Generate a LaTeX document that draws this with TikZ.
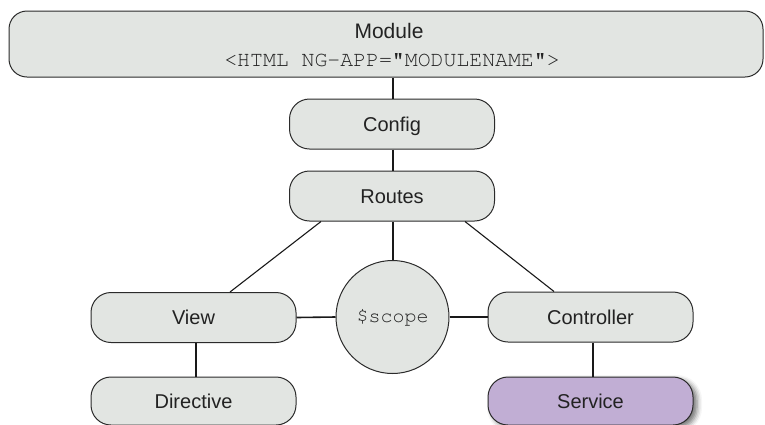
\documentclass[tikz,border=0pt]{standalone}
\usepackage[T1]{fontenc}
\usepackage{fontspec}
\setmainfont{Liberation Sans}
\newcommand{\courierfont}{\fontencoding{T1}\fontfamily{pcr}\selectfont}
\usetikzlibrary{shadows.blur,calc}
\definecolor{boxfill}{HTML}{E2E5E2}
\definecolor{svcfill}{HTML}{C1AED4}
\definecolor{boxline}{HTML}{2B2B2B}
\definecolor{txt}{HTML}{222222}
\begin{document}
\begin{tikzpicture}[x=1pt,y=-1pt,
  box/.style={draw=boxline, line width=1pt, fill=boxfill, rounded corners=20pt,
    minimum width=205pt, minimum height=50pt, inner sep=0pt, text=txt,
    font=\fontsize{20}{24}\selectfont, text height=14pt, text depth=0pt},
  link/.style={line width=1.6pt, draw=black!90},
  lbl/.style={inner sep=0pt, text depth=0pt, text=txt}]
\useasboundingbox (0,0) rectangle (765,424);
\node[box, rounded corners=18pt, minimum width=754pt, minimum height=66pt] (module) at (386,44) {};
\node[lbl, font=\fontsize{21}{24}\selectfont, text height=13.5pt] (modtitle) at (389,31.5) {Module};
\node[lbl, font=\fontsize{21.5}{22}\courierfont, text height=11pt] (modcode) at (392,60.5) {<HTML NG-APP="MODULENAME">};
\node[box] (config) at (392,124) {Config};
\node[box] (routes) at (392,196) {Routes};
\node[box] (view) at (193.5,317.5) {View};
\node[box, minimum height=48pt] (directive) at (193.5,401) {Directive};
\node[box] (controller) at (590.5,317) {Controller};
\node[box, fill=svcfill, minimum height=48pt,
  blur shadow={shadow xshift=4pt, shadow yshift=-3pt, shadow blur radius=5pt, shadow opacity=55}] (service) at (590.5,401) {Service};
\node[draw=boxline, line width=1pt, fill=boxfill, circle, minimum size=113pt, inner sep=0pt, text=txt,
  font=\fontsize{20}{22}\courierfont] (scope) at (392.5,317) {\$scope};
% connectors
\draw[link] (module.south -| config.north) ++(1,0) coordinate (mc) -- (mc |- config.north);
\draw[link] ([xshift=1pt]config.south) -- ([xshift=1pt]routes.north);
\draw[link] ([xshift=1pt]routes.south) -- ([xshift=1pt]routes.south |- scope.north);
\draw[link, line width=1.1pt] ($(routes.south)+(-71,0)$) -- ($(view.north)+(36.5,0)$);
\draw[link, line width=1.1pt] ($(routes.south)+(73,0)$) -- ($(controller.north)+(-36.5,0)$);
\draw[link] (view.east) -- (scope.west);
\draw[link] (scope.east) -- (controller.west);
\draw[link] ([xshift=2.5pt]view.south) -- ([xshift=2.5pt]directive.north);
\draw[link] ([xshift=2.5pt]controller.south) -- ([xshift=2.5pt]service.north);
\end{tikzpicture}
\end{document}
